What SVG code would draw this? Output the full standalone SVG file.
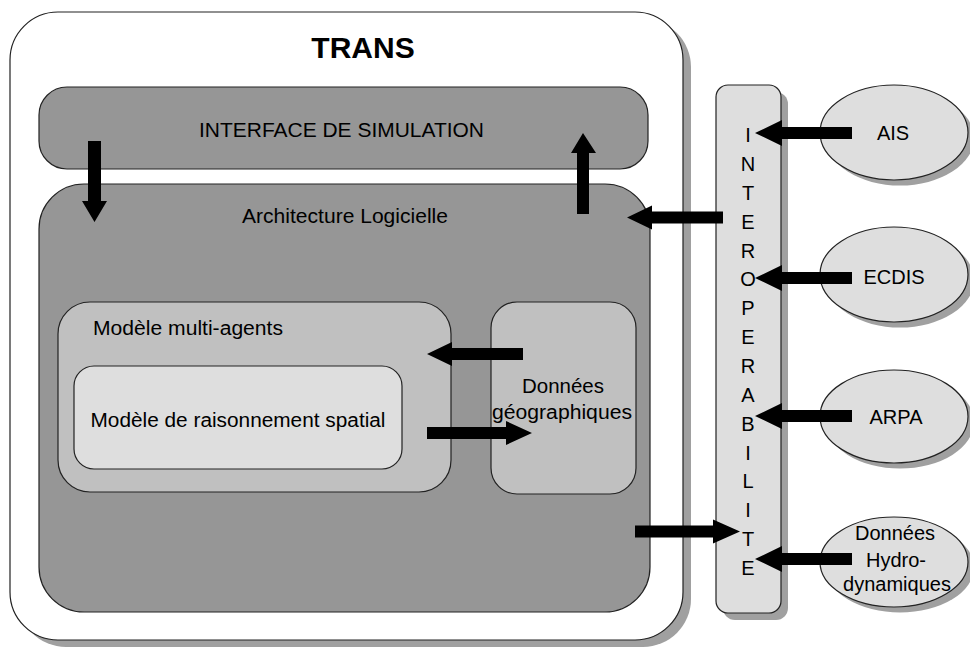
<svg xmlns="http://www.w3.org/2000/svg" width="970" height="648" viewBox="0 0 970 648">
<style>
text{font-family:"Liberation Sans",Arial,sans-serif;fill:#000;}
.box{stroke:#222;stroke-width:1.2;}
.shadow{fill:#a0a0a0;}
.dark{fill:#969696;}
.mid{fill:#c0c0c0;}
.light{fill:#dedede;}
.lbl{font-size:20px;}
.c{text-anchor:middle;}
.arr{fill:#000;}
</style>
<rect width="970" height="648" fill="#fff"/>
<g id="trans">
<rect class="shadow" x="18" y="19" width="673" height="628" rx="48"/>
<rect class="box" x="10" y="12" width="673" height="628" rx="48" fill="#fff"/>
<text x="363" y="58" class="c" font-size="30" font-weight="bold">TRANS</text>
</g>
<g id="interface">
<rect class="box dark" x="39" y="87" width="609" height="82" rx="28"/>
<text x="341.5" y="137" class="lbl c" textLength="285" lengthAdjust="spacingAndGlyphs">INTERFACE DE SIMULATION</text>
</g>
<g id="architecture">
<rect class="box dark" x="39" y="184" width="611" height="428" rx="45"/>
<text x="345" y="223" class="lbl c" textLength="206" lengthAdjust="spacingAndGlyphs">Architecture Logicielle</text>
</g>
<g id="multiagents">
<rect class="box mid" x="58" y="302" width="393" height="190" rx="32"/>
<text x="93" y="335" class="lbl" textLength="190" lengthAdjust="spacingAndGlyphs">Modèle multi-agents</text>
</g>
<g id="raisonnement">
<rect class="box light" x="74" y="366" width="328" height="103" rx="20"/>
<text x="238" y="427" class="lbl c" textLength="295" lengthAdjust="spacingAndGlyphs">Modèle de raisonnement spatial</text>
</g>
<g id="donnees-geo">
<rect class="box mid" x="491" y="302" width="145" height="192" rx="26"/>
<text x="563" y="393" class="lbl c" textLength="82" lengthAdjust="spacingAndGlyphs">Données</text>
<text x="562" y="419" class="lbl c" textLength="140" lengthAdjust="spacingAndGlyphs">géographiques</text>
</g>
<g id="interoperabilite">
<rect class="shadow" x="723" y="92" width="65" height="528" rx="12"/>
<rect class="box light" x="716" y="85" width="65" height="528" rx="12"/>
<g class="lbl c">
<text x="748" y="142">I</text>
<text x="748" y="171">N</text>
<text x="748" y="200">T</text>
<text x="748" y="229">E</text>
<text x="748" y="258">R</text>
<text x="748" y="286">O</text>
<text x="748" y="315">P</text>
<text x="748" y="344">E</text>
<text x="748" y="373">R</text>
<text x="748" y="402">A</text>
<text x="748" y="431">B</text>
<text x="748" y="460">I</text>
<text x="748" y="488">L</text>
<text x="748" y="517">I</text>
<text x="748" y="546">T</text>
<text x="748" y="575">E</text>
</g>
</g>
<g id="ais">
<ellipse class="shadow" cx="900" cy="138" rx="74" ry="47.5"/>
<ellipse class="box light" cx="894" cy="132.5" rx="74" ry="47.5"/>
<text x="893" y="140" class="lbl c">AIS</text>
</g>
<g id="ecdis">
<ellipse class="shadow" cx="900" cy="280" rx="74" ry="47.5"/>
<ellipse class="box light" cx="894" cy="274.5" rx="74" ry="47.5"/>
<text x="894" y="284" class="lbl c">ECDIS</text>
</g>
<g id="arpa">
<ellipse class="shadow" cx="900" cy="422" rx="74" ry="46.5"/>
<ellipse class="box light" cx="894" cy="416.5" rx="74" ry="46.5"/>
<text x="896" y="424" class="lbl c">ARPA</text>
</g>
<g id="hydro">
<ellipse class="shadow" cx="900" cy="567.5" rx="74" ry="45"/>
<ellipse class="box light" cx="894" cy="562" rx="74" ry="45"/>
<text x="895" y="540" class="lbl c">Données</text>
<text x="896" y="567" class="lbl c">Hydro-</text>
<text x="897" y="591" class="lbl c">dynamiques</text>
</g>
<g id="connectors" class="arr">
<path d="M88,141 H101 V201 H107 L94.5,222 L82,201 H88 Z"/>
<path d="M577,214 V153 H571 L583,133 L596,153 H589 V214 Z"/>
<path d="M723,211.5 H652 V205.5 L627,217.5 L652,229.5 V223.5 H723 Z"/>
<path d="M635,525.5 H713 V519.5 L740,531.5 L713,543.5 V537.5 H635 Z"/>
<path d="M523,348 H452 V342 L427,354 L452,366 V360 H523 Z"/>
<path d="M427,427 H506 V421 L532,433 L506,445 V439 H427 Z"/>
<path d="M852,127 H782 V120 L755,133 L782,146 V139 H852 Z"/>
<path d="M852,272 H782 V265 L755,278 L782,291 V284 H852 Z"/>
<path d="M852,410 H782 V403 L755,416 L782,429 V422 H852 Z"/>
<path d="M852,553 H782 V546 L755,559 L782,572 V565 H852 Z"/>
</g>
</svg>
